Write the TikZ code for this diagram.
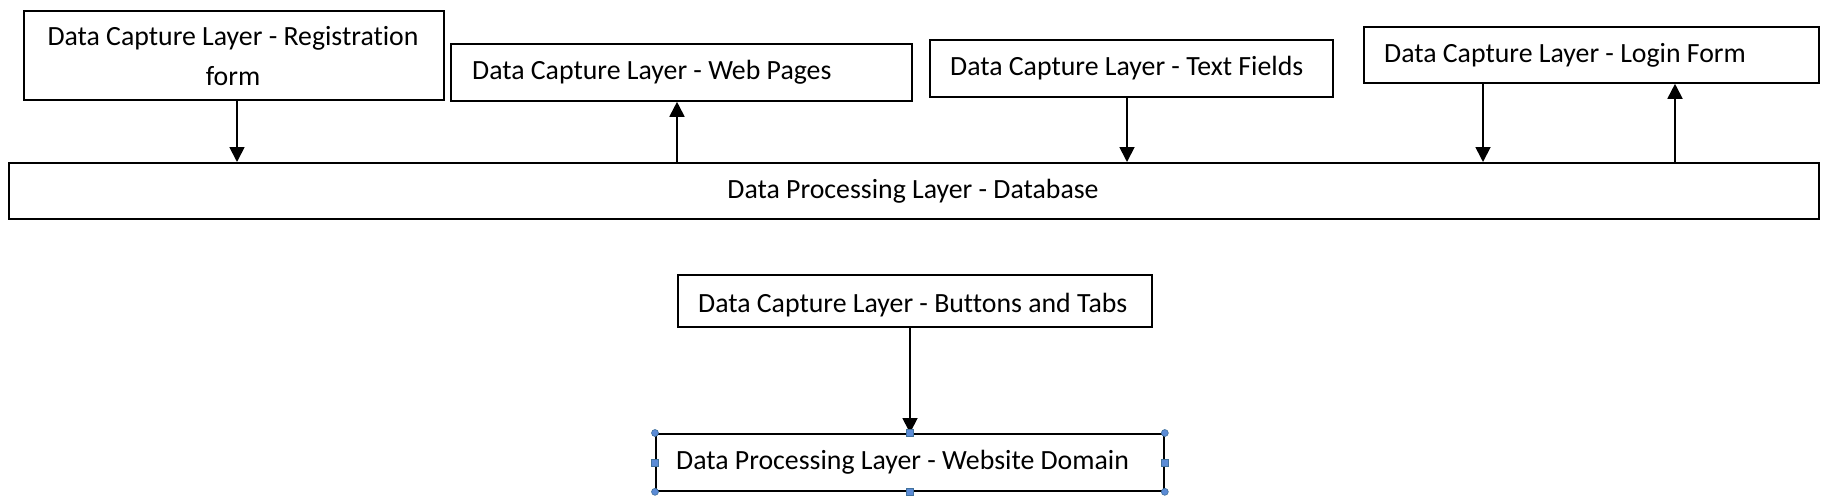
\documentclass[tikz,border=0pt]{standalone}
\usepackage{fontspec}
\setmainfont{Carlito}[Ligatures=NoCommon]
\usetikzlibrary{arrows.meta}
\definecolor{handleblue}{HTML}{5B8BD6}
\definecolor{handleedge}{HTML}{41719C}
\begin{document}
\begin{tikzpicture}[x=1pt,y=-1pt,
  boxshape/.style={draw=black, line width=1.8pt, inner sep=0pt, anchor=north west},
  lbl/.style={font=\fontsize{27.8pt}{40pt}\selectfont, inner sep=0pt},
  conn/.style={line width=1.8pt, -{Triangle[length=15pt,width=15pt]}},
  handleC/.style={circle, fill=handleblue, draw=handleedge, line width=0.6pt, inner sep=0pt, minimum size=7pt},
  handleS/.style={rectangle, fill=handleblue, draw=handleedge, line width=0.6pt, inner sep=0pt, minimum size=7pt}]
\useasboundingbox (0,0) rectangle (1832,501);
% boxes
\node[boxshape, minimum width=420pt, minimum height=89pt] (b1) at (23,10) {};
\node[boxshape, minimum width=461pt, minimum height=57pt] (b2) at (450,43) {};
\node[boxshape, minimum width=403pt, minimum height=57pt] (b3) at (929,39) {};
\node[boxshape, minimum width=455pt, minimum height=56pt] (b4) at (1363,26) {};
\node[boxshape, minimum width=1810pt, minimum height=56pt] (db) at (8,162) {};
\node[boxshape, minimum width=474pt, minimum height=52pt] (bt) at (677,274) {};
\node[boxshape, minimum width=508pt, minimum height=57pt] (wd) at (655,433) {};
% texts
\node[lbl, anchor=base] (t1a) at (233,45) {Data Capture Layer - Registration};
\node[lbl, anchor=base] (t1b) at (233,85) {form};
\node[lbl, anchor=base west] (t2) at (472,79) {Data Capture Layer - Web Pages};
\node[lbl, anchor=base west] (t3) at (950,75) {Data Capture Layer - Text Fields};
\node[lbl, anchor=base west] (t4) at (1384,62) {Data Capture Layer - Login Form};
\node[lbl, anchor=base] (t5) at (913,198) {Data Processing Layer - Database};
\node[lbl, anchor=base west] (t6) at (698,312) {Data Capture Layer - Buttons and Tabs};
\node[lbl, anchor=base west] (t7) at (676,469) {Data Processing Layer - Website Domain};
% connector columns
\coordinate (x1) at (237,0);
\coordinate (x2) at (677,0);
\coordinate (x3) at (1127,0);
\coordinate (x4) at (1483,0);
\coordinate (x5) at (1675,0);
\coordinate (x6) at (910,0);
% connectors
\draw[conn] (x1 |- b1.south) -- (x1 |- db.north);
\draw[conn] (x2 |- db.north) -- (x2 |- b2.south);
\draw[conn] (x3 |- b3.south) -- (x3 |- db.north);
\draw[conn] (x4 |- b4.south) -- (x4 |- db.north);
\draw[conn] (x5 |- db.north) -- (x5 |- b4.south);
\draw[conn] (x6 |- bt.south) -- (x6 |- wd.north);
% selection handles
\node[handleC] (h1) at (wd.north west) {};
\node[handleC] (h2) at (wd.north east) {};
\node[handleC] (h3) at (wd.south west) {};
\node[handleC] (h4) at (wd.south east) {};
\node[handleS] (h5) at (x6 |- wd.north) {};
\node[handleS] (h6) at (x6 |- wd.south) {};
\node[handleS] (h7) at (wd.west) {};
\node[handleS] (h8) at (wd.east) {};
\end{tikzpicture}
\end{document}
